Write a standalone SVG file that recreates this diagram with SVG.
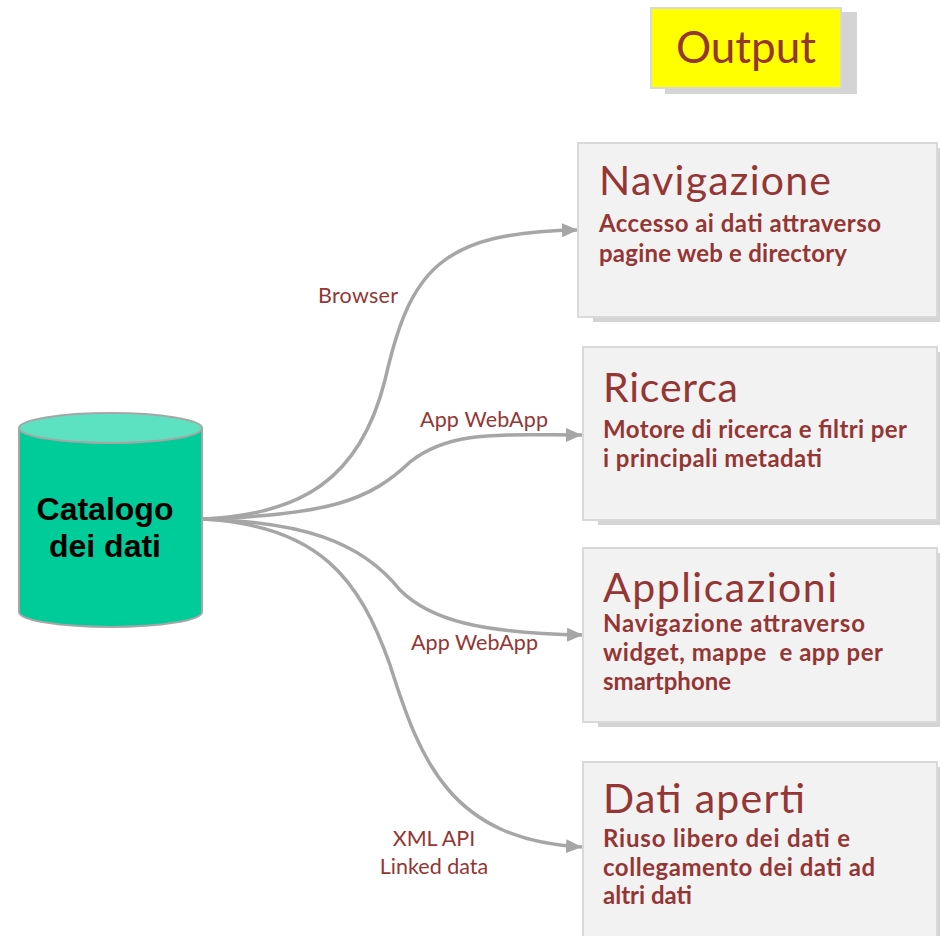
<svg xmlns="http://www.w3.org/2000/svg" width="940" height="936" viewBox="0 0 940 936">
<style>
.box{fill:#f2f2f2;stroke:#d9d9d9;stroke-width:2}
.shadow{fill:#d4d4d4}
.title{font-family:Lato,"Open Sans",sans-serif;font-size:41px;fill:#943634}
.sub{font-family:Lato,"Open Sans",sans-serif;font-size:24px;font-weight:bold;fill:#943634}
.lbl{font-family:Lato,"Open Sans",sans-serif;font-size:21.5px;fill:#943634}
.conn{fill:none;stroke:#a6a6a6;stroke-width:3.5}
.cyl{font-family:"Liberation Sans",Arial,sans-serif;font-size:32px;font-weight:bold;fill:#000}
</style>
<defs>
<marker id="arr" markerUnits="userSpaceOnUse" markerWidth="16" markerHeight="14" refX="16" refY="7" orient="auto">
<path d="M0,0 L16,7 L0,14 Z" fill="#a6a6a6"/>
</marker>
</defs>
<rect width="940" height="936" fill="#ffffff"/>

<g id="output">
<rect class="shadow" x="665" y="12" width="192" height="82"/>
<rect x="651" y="8" width="190" height="80" fill="#ffff00" stroke="#d9d9d9" stroke-width="2"/>
<text x="746" y="63" text-anchor="middle" font-family="Lato,'Open Sans',sans-serif" font-size="44" fill="#943634">Output</text>
</g>

<g id="connectors">
<path class="conn" marker-end="url(#arr)" d="M202,519 C300,515 360,480 385,380 C410,270 440,232 578,230"/>
<path class="conn" marker-end="url(#arr)" d="M202,519 C330,515 370,500 410,462 C450,430 500,435 582,435"/>
<path class="conn" marker-end="url(#arr)" d="M202,519 C300,522 360,540 400,590 C430,620 480,633 583,635"/>
<path class="conn" marker-end="url(#arr)" d="M202,519 C320,525 360,580 390,665 C420,760 450,840 582,847"/>
<text class="lbl" x="318" y="303" textLength="80">Browser</text>
<text class="lbl" x="420" y="427" textLength="128">App WebApp</text>
<text class="lbl" x="411" y="650" textLength="127">App WebApp</text>
<text class="lbl" x="434" y="846" text-anchor="middle">XML API</text>
<text class="lbl" x="434" y="874" text-anchor="middle">Linked data</text>
</g>

<g id="catalogo">
<path d="M19,428 L19,612 A91.5,15 0 0 0 202,612 L202,428" fill="#00cc99" stroke="#a6a6a6" stroke-width="2"/>
<ellipse cx="110.5" cy="428" rx="91.5" ry="15" fill="#5de2c1" stroke="#a6a6a6" stroke-width="2"/>
<text class="cyl" x="105" y="520" text-anchor="middle">Catalogo</text>
<text class="cyl" x="105" y="557" text-anchor="middle">dei dati</text>
</g>

<g id="navigazione">
<rect class="shadow" x="593" y="148" width="359" height="174"/>
<rect class="box" x="578" y="143" width="359" height="174"/>
<text class="title" x="599" y="195" textLength="232">Navigazione</text>
<text class="sub" x="599" y="232" textLength="282">Accesso ai dati attraverso</text>
<text class="sub" x="599" y="262" textLength="248">pagine web e directory</text>
</g>

<g id="ricerca">
<rect class="shadow" x="598" y="352" width="354" height="173"/>
<rect class="box" x="583" y="347" width="354" height="173"/>
<text class="title" x="603" y="402" textLength="135">Ricerca</text>
<text class="sub" x="603" y="438" textLength="304">Motore di ricerca e filtri per</text>
<text class="sub" x="603" y="467" textLength="219">i principali metadati</text>
</g>

<g id="applicazioni">
<rect class="shadow" x="598" y="553" width="354" height="174"/>
<rect class="box" x="583" y="548" width="354" height="174"/>
<text class="title" x="603" y="602" textLength="234">Applicazioni</text>
<text class="sub" x="603" y="632" textLength="262">Navigazione attraverso</text>
<text class="sub" x="603" y="661" textLength="280" xml:space="preserve">widget, mappe  e app per</text>
<text class="sub" x="603" y="690">smartphone</text>
</g>

<g id="dati-aperti">
<rect class="shadow" x="598" y="767" width="354" height="180"/>
<rect class="box" x="583" y="762" width="354" height="180"/>
<text class="title" x="603" y="813" textLength="202">Dati aperti</text>
<text class="sub" x="603" y="847" textLength="247">Riuso libero dei dati e</text>
<text class="sub" x="603" y="876" textLength="272">collegamento dei dati ad</text>
<text class="sub" x="603" y="904">altri dati</text>
</g>
</svg>
